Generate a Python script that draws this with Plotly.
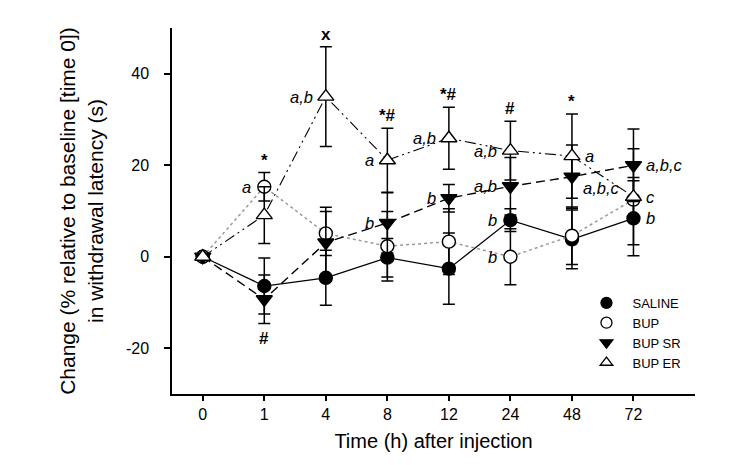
import plotly.graph_objects as go

# time points after injection (h), plotted at equal spacing
times = ["0", "1", "4", "8", "12", "24", "48", "72"]

saline = [0, -6.4, -4.6, -0.2, -2.6, 8.0, 3.8, 8.4]
saline_err = [None, 6.1, 6.0, 4.2, 7.8, 2.5, 6.4, 8.2]
bup = [0, 15.3, 5.1, 2.3, 3.3, 0.0, 4.6, 12.5]
bup_err = [None, 3.1, 4.8, 7.6, 7.2, 6.1, 6.3, 4.8]
bup_sr = [0, -9.3, 3.1, 7.4, 12.8, 15.4, 17.5, 20.0]
bup_sr_err = [None, 5.3, 7.7, 6.6, 3.0, 6.3, 6.9, 7.9]
bup_er = [0, 9.1, 35.0, 21.1, 25.9, 23.2, 22.0, 13.1]
bup_er_err = [None, 6.2, 10.9, 7.0, 6.8, 6.4, 9.2, 10.5]

y_ticks = [-20, 0, 20, 40]
y_ticktext = ["-20", "0", "20", "40"]

# letters next to points: (series, time index, text, side)
letters = [
    ("BUP", 1, "a", "left"),
    ("BUP ER", 2, "a,b", "left"),
    ("BUP ER", 3, "a", "left"),
    ("BUP SR", 3, "b", "left"),
    ("BUP ER", 4, "a,b", "left"),
    ("BUP SR", 4, "b", "left"),
    ("BUP ER", 5, "a,b", "left"),
    ("BUP SR", 5, "a,b", "left"),
    ("SALINE", 5, "b", "left"),
    ("BUP", 5, "b", "left"),
    ("BUP ER", 6, "a", "right"),
    ("BUP SR", 6, "a,b,c", "below"),
    ("BUP SR", 7, "a,b,c", "right"),
    ("BUP ER", 7, "c", "right"),
    ("SALINE", 7, "b", "right"),
]
sig_above = ["", "*", "x", "*#", "*#", "#", "*", ""]
sig_below = ["", "#", "", "", "", "", "", ""]

FONT = "Liberation Sans, Arial, sans-serif"
xs = list(range(len(times)))

series = {
    "SALINE": (saline, saline_err),
    "BUP": (bup, bup_err),
    "BUP SR": (bup_sr, bup_sr_err),
    "BUP ER": (bup_er, bup_er_err),
}
styles = {
    "SALINE": dict(symbol="circle", fill="black", size=13,
                   line=dict(color="black", width=1.3, dash="solid")),
    "BUP": dict(symbol="circle", fill="white", size=13,
                line=dict(color="#9a9a9a", width=1.5, dash="dot")),
    "BUP SR": dict(symbol="triangle-down", fill="black", size=14,
                   line=dict(color="black", width=1.4, dash="9px,5px")),
    "BUP ER": dict(symbol="triangle-up", fill="white", size=14,
                   line=dict(color="black", width=1.1,
                             dash="11px,4px,2px,4px,2px,4px")),
}

fig = go.Figure()
for name, (vals, errs) in series.items():
    st = styles[name]
    fig.add_trace(go.Scatter(
        x=xs, y=vals, mode="lines+markers", name=name, showlegend=False,
        line=st["line"],
        marker=dict(symbol=st["symbol"], size=st["size"], color=st["fill"],
                    line=dict(color="black", width=1.4)),
        error_y=dict(type="data", array=errs, color="black",
                     thickness=1.5, width=6),
    ))

# legend entries show markers only
for name in series:
    st = styles[name]
    fig.add_trace(go.Scatter(
        x=[None], y=[None], mode="markers", name=name,
        marker=dict(symbol=st["symbol"], size=11, color=st["fill"],
                    line=dict(color="black", width=1.3)),
    ))

for name, i, txt, side in letters:
    v = series[name][0][i]
    if side == "left":
        kw = dict(xanchor="right", xshift=-11, yshift=0)
    elif side == "right":
        kw = dict(xanchor="left", xshift=11, yshift=0)
    else:
        kw = dict(xanchor="left", xshift=9, yshift=-11)
    fig.add_annotation(x=i, y=v, text="<i>" + txt + "</i>", showarrow=False,
                       font=dict(family=FONT, size=16.5, color="black"),
                       yanchor="middle", **kw)

for i in xs:
    tops = [v[i] + (e[i] or 0) for v, e in series.values()]
    bots = [v[i] - (e[i] or 0) for v, e in series.values()]
    if sig_above[i]:
        fig.add_annotation(x=i, y=max(tops), text="<b>" + sig_above[i] + "</b>",
                           showarrow=False, yanchor="bottom", yshift=1,
                           font=dict(family=FONT, size=17, color="black"))
    if sig_below[i]:
        fig.add_annotation(x=i, y=min(bots), text="<b>" + sig_below[i] + "</b>",
                           showarrow=False, yanchor="top", yshift=-3,
                           font=dict(family=FONT, size=17, color="black"))

fig.update_layout(
    width=745, height=465,
    margin=dict(l=164, r=58, t=20, b=79),
    plot_bgcolor="white", paper_bgcolor="white",
    font=dict(family=FONT, color="black"),
    legend=dict(x=0.781, y=0.29, xanchor="left", yanchor="top",
                font=dict(family=FONT, size=13), bgcolor="rgba(0,0,0,0)",
                itemwidth=42, tracegroupgap=0),
    xaxis=dict(range=[-0.5, 8], tickmode="array", tickvals=xs, ticktext=times,
               showline=True, linecolor="black", linewidth=1.5,
               ticks="outside", ticklen=5, tickwidth=1.5, tickcolor="black",
               showgrid=False, zeroline=False,
               tickfont=dict(size=16),
               title=dict(text="Time (h) after injection", font=dict(size=20),
                          standoff=12)),
    yaxis=dict(range=[-30, 50], tickmode="array", tickvals=y_ticks,
               ticktext=y_ticktext,
               showline=True, linecolor="black", linewidth=1.5,
               ticks="outside", ticklen=6, tickwidth=1.5, tickcolor="black",
               ticklabelstandoff=12,
               showgrid=False, zeroline=False,
               tickfont=dict(size=16),
               title=dict(text="Change (% relative to baseline [time 0])<br>"
                               "in withdrawal latency (s)",
                          font=dict(size=21), standoff=17)),
)

fig.write_html("out.html")
